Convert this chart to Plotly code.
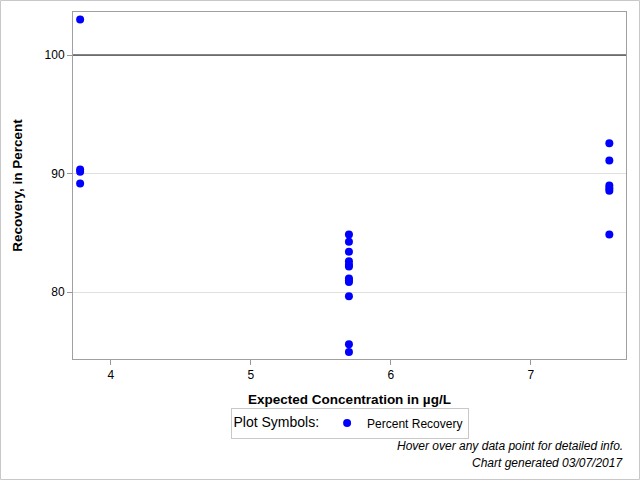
import plotly.graph_objects as go

# Data
conc_low = [3.78, 3.78, 3.78, 3.78]
rec_low = [103.0, 90.35, 90.15, 89.15]
conc_mid = [5.70] * 12
rec_mid = [84.85, 84.25, 83.4, 82.6, 82.3, 82.15, 81.15, 80.85, 79.65, 75.6, 74.95, 81.0]
conc_high = [7.56] * 6
rec_high = [92.55, 91.1, 89.0, 88.75, 88.55, 84.85]

x_vals = conc_low + conc_mid + conc_high
y_vals = rec_low + rec_mid + rec_high

x_ticks = [4, 5, 6, 7]
y_ticks = [80, 90, 100]
ref_line = 100

W, H = 640, 480
L, R, T, B = 73, 14, 12, 121
pw, ph = W - L - R, H - T - B

fig = go.Figure()
fig.add_trace(go.Scatter(
    x=x_vals, y=y_vals, mode="markers",
    marker=dict(color="#0000FF", size=8),
    name="Percent Recovery",
))

fig.update_layout(
    width=W, height=H,
    margin=dict(l=L, r=R, t=T, b=B),
    paper_bgcolor="white", plot_bgcolor="white",
    font=dict(family="Liberation Sans, Arial, sans-serif", size=12, color="black"),
    showlegend=True,
    legend=dict(
        orientation="h", x=0.5, xanchor="center", y=(T + ph - 423) / ph, yanchor="middle",
        bordercolor="#C8C8C8", borderwidth=1,
        title=dict(text="Plot Symbols:", side="left"),
        font=dict(size=12), itemwidth=30, tracegroupgap=0,
    ),
    xaxis=dict(
        range=[3.729, 7.679], tickvals=x_ticks,
        ticks="outside", ticklen=5, tickcolor="#999999",
        showline=True, linecolor="#A0A0A0", mirror=True, showgrid=False, zeroline=False,
        title=dict(text="<b>Expected Concentration in µg/L</b>", font=dict(size=13.5), standoff=13),
        tickfont=dict(size=12),
    ),
    yaxis=dict(
        range=[74.35, 103.63], tickvals=y_ticks,
        ticks="outside", ticklen=5, tickcolor="#999999",
        showline=True, linecolor="#A0A0A0", mirror=True, showgrid=True, gridcolor="#E0E0E0",
        zeroline=False,
        title=dict(text="<b>Recovery, in Percent</b>", font=dict(size=13.5), standoff=18),
        tickfont=dict(size=12),
    ),
    shapes=[
        dict(type="line", xref="paper", yref="y", x0=0, x1=1, y0=ref_line, y1=ref_line,
             line=dict(color="black", width=1)),
        dict(type="rect", xref="paper", yref="paper",
             x0=(0.5 - L) / pw, x1=(W - 0.5 - L) / pw,
             y0=(T + ph - (H - 0.5)) / ph, y1=(T + ph - 0.5) / ph,
             line=dict(color="#C8C8C8", width=1)),
    ],
    annotations=[
        dict(text="<i>Hover over any data point for detailed info.</i>", xref="paper", yref="paper",
             x=(625 - L) / pw, y=(T + ph - 446) / ph, xanchor="right", yanchor="middle",
             showarrow=False, font=dict(size=12)),
        dict(text="<i>Chart generated 03/07/2017</i>", xref="paper", yref="paper",
             x=(625 - L) / pw, y=(T + ph - 463) / ph, xanchor="right", yanchor="middle",
             showarrow=False, font=dict(size=12)),
    ],
)

fig.write_html("out.html", config={"displayModeBar": False},
               post_script="document.body.style.margin='0';")
